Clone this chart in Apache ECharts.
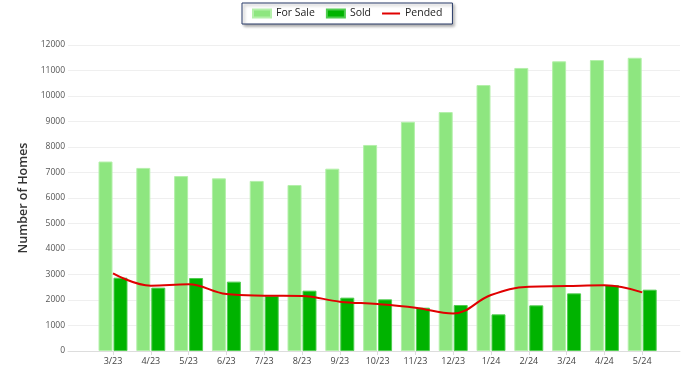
<!DOCTYPE html>
<html><head><meta charset="utf-8">
<script src="https://cdn.jsdelivr.net/npm/echarts@6/dist/echarts.min.js"></script>
<style>html,body{margin:0;padding:0;background:#fff}#c{width:700px;height:366px}</style>
</head><body><div id="c"></div>
<script>
const categories = ['3/23','4/23','5/23','6/23','7/23','8/23','9/23','10/23','11/23','12/23','1/24','2/24','3/24','4/24','5/24'];
const forSale = [7430, 7180, 6860, 6770, 6670, 6510, 7150, 8080, 8990, 9370, 10430, 11100, 11360, 11410, 11500];
const sold = [2875, 2485, 2863, 2720, 2157, 2366, 2092, 2026, 1699, 1804, 1438, 1791, 2261, 2588, 2405];
const pended = [3046, 2562, 2614, 2235, 2170, 2157, 1935, 1843, 1700, 1473, 2196, 2523, 2549, 2575, 2300];
const yTicks = [0, 12000, 1000];

const font = 'Open Sans';
const chart = echarts.init(document.getElementById('c'));
chart.setOption({
  animation: false,
  textStyle: {fontFamily: font},
  legend: {
    top: 3, left: 242,
    padding: [5, 10, 5, 10],
    backgroundColor: '#fff',
    borderColor: '#2b3d6b', borderWidth: 1,
    shadowColor: 'rgba(0,0,0,0.35)', shadowBlur: 3, shadowOffsetX: 2, shadowOffsetY: 2,
    itemWidth: 18, itemHeight: 8, itemGap: 11,
    symbolKeepAspect: true,
    textStyle: {fontSize: 10.5, color: '#222', fontFamily: font},
    data: [{name: 'For Sale', icon: 'rect'}, {name: 'Sold', icon: 'rect'},
           {name: 'Pended', icon: 'path://M0,0h18v2h-18z'}]
  },
  grid: [
    {left: 68, right: 20, top: 45, bottom: 15},
    {left: 94.1, right: 38.9, top: 45, bottom: 15}
  ],
  xAxis: [
    {type: 'value', gridIndex: 0, min: 0, max: 1, show: true,
     axisLine: {show: true, lineStyle: {color: '#ddd'}}, axisTick: {show: false},
     axisLabel: {show: false}, splitLine: {show: false}},
    {type: 'category', gridIndex: 1, data: categories,
     axisLine: {show: false},
     axisTick: {show: true, alignWithLabel: true, length: 4, lineStyle: {color: '#ddd'}},
     axisLabel: {fontSize: 9, color: '#444', margin: 6, interval: 0}}
  ],
  yAxis: [
    {type: 'value', gridIndex: 0, min: yTicks[0], max: yTicks[1], interval: yTicks[2],
     name: 'Number of Homes', nameLocation: 'middle', nameGap: 33,
     nameTextStyle: {fontSize: 12.5, color: '#333', fontWeight: 600},
     axisLine: {show: false}, axisTick: {show: false},
     axisLabel: {fontSize: 8.5, color: '#555', margin: 3, formatter: v => String(v)},
     splitLine: {lineStyle: {color: '#efefef'}}},
    {type: 'value', gridIndex: 1, min: yTicks[0], max: yTicks[1], show: false, splitLine: {show: false}}
  ],
  series: [
    {name: 'For Sale', type: 'bar', xAxisIndex: 1, yAxisIndex: 1, data: forSale,
     barWidth: 14, barGap: '7%',
     itemStyle: {color: '#8ee680', borderColor: '#b4f0aa', borderWidth: 1}},
    {name: 'Sold', type: 'bar', xAxisIndex: 1, yAxisIndex: 1, data: sold,
     barWidth: 14, barGap: '7%',
     itemStyle: {color: '#00b300', borderColor: '#4fcc4f', borderWidth: 1}},
    {name: 'Pended', type: 'line', xAxisIndex: 1, yAxisIndex: 1, data: pended,
     smooth: 0.4, symbol: 'none', z: 5,
     lineStyle: {color: '#e00000', width: 2}, itemStyle: {color: '#e00000'}}
  ]
});
</script></body></html>
